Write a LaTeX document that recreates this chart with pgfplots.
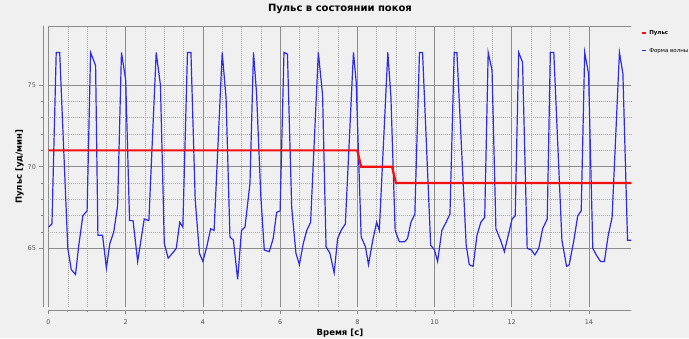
\documentclass[border=0pt]{standalone}
\usepackage{fontspec}
\setmainfont{DejaVu Sans}
\usepackage{pgfplots}
\pgfplotsset{compat=1.18}
\definecolor{bg}{HTML}{F0F0F0}
\definecolor{gridmaj}{HTML}{8C8C8C}
\definecolor{gridmin}{HTML}{ABABAB}
\definecolor{wave}{HTML}{2B2BE8}
\definecolor{pulse}{HTML}{F01010}
\definecolor{ticktext}{HTML}{5A5A5A}
\begin{document}
\begin{tikzpicture}[x=1pt,y=1pt]
\useasboundingbox (0,0) rectangle (689,338);
\fill[bg] (0,0) rectangle (689,338);
\begin{axis}[
  at={(48.5pt,31.5pt)}, anchor=south west,
  scale only axis, width=582.9pt, height=280.2pt,
  xmin=0, xmax=15.1, ymin=61.44, ymax=78.6,
  axis x line*=bottom, axis y line*=left,
  axis x line shift=3.5pt, axis y line shift=5pt,
  axis line style={gridmaj, line width=0.8pt, -},
  xtick={0,2,...,14}, minor x tick num=3,
  ytick={65,70,75}, minor y tick num=4,
  tick align=outside,
  major tick length=4pt, minor tick length=2pt,
  tick style={gridmaj, line width=0.7pt},
  grid=both,
  major grid style={gridmaj, line width=0.8pt},
  minor grid style={gridmin, line width=0.6pt, dash pattern=on 1pt off 1pt},
  /pgf/number format/assume math mode=true,
  ticklabel style={font=\fontsize{6.5}{7}\selectfont, text=ticktext},
  xticklabel style={yshift=-2pt},
  title={Пульс в состоянии покоя},
  title style={font=\bfseries\fontsize{10}{12}\selectfont, at={(axis description cs:0.5,1.039)}, anchor=center},
  xlabel={Время [с]},
  xlabel style={font=\bfseries\fontsize{8.5}{10}\selectfont, at={(axis description cs:0.5,-0.0934)}, anchor=center},
  ylabel={Пульс [уд/мин]},
  ylabel style={font=\bfseries\fontsize{8.5}{10}\selectfont, at={(axis description cs:-0.0498,0.499)}, anchor=center},
  legend style={at={(axis description cs:1,1)}, anchor=north west, draw=none, fill=none,
    font=\fontsize{5.5}{6.5}\selectfont, row sep=8pt, xshift=9pt, yshift=-2pt, inner sep=0pt},
  legend cell align=left,
  legend image code/.code={\draw[#1] (0pt,0pt) -- (4.5pt,0pt);},
  reverse legend,
]
\addplot[wave, line width=1.2pt] coordinates {
(0.00,66.3) (0.09,66.5) (0.20,77.0) (0.29,77.0) (0.50,65.0) (0.59,63.7) (0.70,63.4) (0.78,65.1) (0.89,67.0) (1.00,67.3)
(1.09,77.0) (1.22,76.2) (1.28,65.8) (1.40,65.8) (1.50,63.8) (1.59,65.3) (1.69,66.0) (1.79,67.6) (1.89,77.0) (2.00,75.3)
(2.10,66.7) (2.19,66.7) (2.31,64.2) (2.48,66.8) (2.60,66.7) (2.79,77.0) (2.90,75.0) (3.00,65.3) (3.10,64.4) (3.21,64.7)
(3.31,65.0) (3.40,66.6) (3.48,66.3) (3.60,77.0) (3.69,77.0) (3.80,68.0) (3.91,64.7) (4.00,64.2) (4.10,65.1) (4.20,66.2)
(4.29,66.1) (4.50,77.0) (4.60,74.2) (4.70,65.7) (4.79,65.5) (4.90,63.1) (5.00,66.1) (5.09,66.3) (5.22,69.0) (5.31,77.0)
(5.39,74.5) (5.50,68.2) (5.59,64.9) (5.72,64.8) (5.82,65.6) (5.91,67.2) (6.00,67.3) (6.10,77.0) (6.19,76.9) (6.30,67.5)
(6.41,64.7) (6.50,64.0) (6.60,65.3) (6.69,66.1) (6.79,66.6) (6.99,77.0) (7.10,74.4) (7.19,65.1) (7.29,64.7) (7.40,63.5)
(7.49,65.6) (7.58,66.1) (7.69,66.5) (7.90,77.0) (7.97,75.2) (8.10,65.7) (8.21,65.1) (8.29,64.0) (8.40,65.5) (8.50,66.6)
(8.57,66.1) (8.79,77.0) (8.87,74.3) (8.98,66.1) (9.09,65.4) (9.22,65.4) (9.30,65.6) (9.39,66.6) (9.49,67.1) (9.61,77.0)
(9.69,77.0) (9.90,65.2) (10.00,64.9) (10.08,64.2) (10.19,66.1) (10.30,66.6) (10.40,67.1) (10.51,77.0) (10.58,77.0) (10.82,65.2)
(10.90,64.0) (11.00,63.9) (11.10,65.8) (11.20,66.6) (11.30,66.9) (11.39,77.0) (11.49,75.9) (11.59,66.2) (11.71,65.5) (11.81,64.8)
(11.92,65.9) (12.01,66.8) (12.09,67.0) (12.18,77.0) (12.28,76.4) (12.40,65.0) (12.51,64.9) (12.60,64.6) (12.70,65.0) (12.80,66.2)
(12.92,66.8) (13.00,77.0) (13.09,77.0) (13.30,65.5) (13.42,63.9) (13.49,64.0) (13.61,65.5) (13.71,67.0) (13.80,67.3) (13.89,77.0)
(13.99,75.7) (14.10,65.0) (14.19,64.6) (14.30,64.2) (14.40,64.2) (14.50,65.8) (14.60,66.9) (14.79,77.0) (14.88,75.7) (15.00,65.5)
(15.11,65.5)
};
\addlegendentry{Форма волны}
\addplot[pulse, line width=2.2pt] coordinates {
(0,71) (8.0,71) (8.1,70) (8.9,70) (9.0,69) (15.1,69)
};
\addlegendentry{\textbf{Пульс}}
\draw[gridmaj, line width=0.8pt] (rel axis cs:0,1) -- (rel axis cs:1,1);
\end{axis}
\end{tikzpicture}
\end{document}
